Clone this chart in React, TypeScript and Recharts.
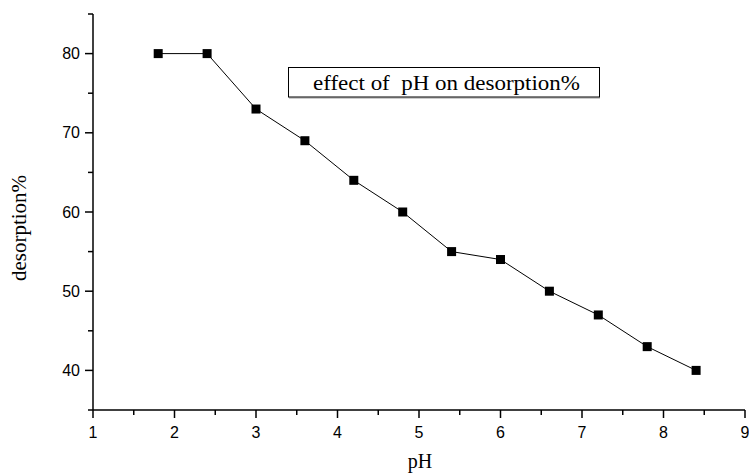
import React from 'react';
import { LineChart, Line, XAxis, YAxis } from 'recharts';

const phValues = [1.8, 2.4, 3.0, 3.6, 4.2, 4.8, 5.4, 6.0, 6.6, 7.2, 7.8, 8.4];
const desorptionValues = [80, 80, 73, 69, 64, 60, 55, 54, 50, 47, 43, 40];

const xTicks = [1, 1.5, 2, 2.5, 3, 3.5, 4, 4.5, 5, 5.5, 6, 6.5, 7, 7.5, 8, 8.5, 9];
const yTicks = [35, 40, 45, 50, 55, 60, 65, 70, 75, 80, 85];
const yLabels = [40, 50, 60, 70, 80];

const data = phValues.map((ph, i) => ({ ph, desorption: desorptionValues[i] }));

const tickFont = { fontFamily: '"Liberation Sans", Arial, sans-serif', fontSize: 16 };
const serif = '"Liberation Serif", "Times New Roman", serif';

const XTick = ({ x, y, payload }: any) => {
  const major = Number.isInteger(payload.value);
  return (
    <g>
      <line x1={x} x2={x} y1={y} y2={y + (major ? 8 : 5)} stroke="#000" strokeWidth={1.5} />
      {major && (
        <text x={x} y={y + 28} textAnchor="middle" fill="#000" style={tickFont}>
          {payload.value}
        </text>
      )}
    </g>
  );
};

const YTick = ({ x, y, payload }: any) => {
  const major = yLabels.includes(payload.value);
  return (
    <g>
      <line x1={x} x2={x - (major ? 8 : 5)} y1={y} y2={y} stroke="#000" strokeWidth={1.5} />
      {major && (
        <text x={x - 13} y={y + 5.5} textAnchor="end" fill="#000" style={tickFont}>
          {payload.value}
        </text>
      )}
    </g>
  );
};

const SquareDot = ({ cx, cy }: any) => (
  <rect x={cx - 4.5} y={cy - 4.5} width={9} height={9} fill="#000" />
);

export default function App() {
  return (
    <div style={{ position: 'absolute', left: 0, top: 0, width: 749, height: 473, background: '#fff' }}>
      <LineChart width={749} height={473} data={data} margin={{ top: 14, right: 4, left: 0, bottom: 0 }}>
        <XAxis
          dataKey="ph"
          type="number"
          domain={[1, 9]}
          ticks={xTicks}
          interval={0}
          height={63}
          tickSize={0}
          tickMargin={0}
          tick={<XTick />}
          axisLine={{ stroke: '#000', strokeWidth: 1.5 }}
          allowDataOverflow
        />
        <YAxis
          type="number"
          domain={[35, 85]}
          ticks={yTicks}
          interval={0}
          width={93}
          tickSize={0}
          tickMargin={0}
          tick={<YTick />}
          axisLine={{ stroke: '#000', strokeWidth: 1.5 }}
          allowDataOverflow
        />
        <Line
          type="linear"
          dataKey="desorption"
          stroke="#000"
          strokeWidth={1}
          dot={<SquareDot />}
          activeDot={false}
          isAnimationActive={false}
        />
      </LineChart>
      <svg width={749} height={473} style={{ position: 'absolute', left: 0, top: 0, pointerEvents: 'none' }}>
        <line x1={289} x2={600} y1={98} y2={98} stroke="#999" strokeWidth={1} />
        <rect x={288.5} y={67.5} width={311} height={29.5} fill="#fff" stroke="#000" strokeWidth={1} />
        <text x={446.5} y={90} textAnchor="middle" fill="#000" textLength={267} lengthAdjust="spacingAndGlyphs"
          style={{ fontFamily: serif, fontSize: 22 }} xmlSpace="preserve">
          effect of  pH on desorption%
        </text>
        <text x={420} y={468} textAnchor="middle" fill="#000" style={{ fontFamily: serif, fontSize: 20 }}>
          pH
        </text>
        <text x={26} y={228} textAnchor="middle" fill="#000" transform="rotate(-90 26 228)"
          style={{ fontFamily: serif, fontSize: 21 }}>
          desorption%
        </text>
      </svg>
    </div>
  );
}
